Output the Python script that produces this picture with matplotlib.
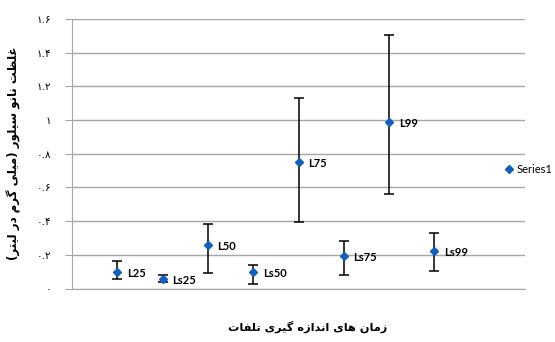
import matplotlib
matplotlib.use('Agg')
import matplotlib.pyplot as plt

# data
labels = ['L25', 'Ls25', 'L50', 'Ls50', 'L75', 'Ls75', 'L99', 'Ls99']
xpos = [1, 2, 3, 4, 5, 6, 7, 8]
conc = [0.10, 0.056, 0.26, 0.096, 0.75, 0.19, 0.99, 0.224]
err_low = [0.045, 0.02, 0.17, 0.07, 0.355, 0.11, 0.43, 0.12]
err_high = [0.065, 0.024, 0.12, 0.045, 0.38, 0.09, 0.515, 0.105]
yticks = [0, 0.2, 0.4, 0.6, 0.8, 1.0, 1.2, 1.4, 1.6]
ytick_labels = ['۰', '۰.۲', '۰.۴', '۰.۶', '۰.۸', '۱', '۱.۲', '۱.۴', '۱.۶']
ylabel = 'غلظت نانو سیلور (میلی گرم در لیتر)'
xlabel = 'زمان های اندازه گیری تلفات'

# --- minimal Persian shaping (no bidi/reshaper libs available) ---
# forms: isolated, final, initial, medial
FORMS = {
    'ا': ('\uFE8D', '\uFE8E'), 'د': ('\uFEA9', '\uFEAA'), 'ر': ('\uFEAD', '\uFEAE'),
    'ز': ('\uFEAF', '\uFEB0'), 'و': ('\uFEED', '\uFEEE'),
    'ت': ('\uFE95', '\uFE96', '\uFE97', '\uFE98'), 'س': ('\uFEB1', '\uFEB2', '\uFEB3', '\uFEB4'),
    'ظ': ('\uFEC5', '\uFEC6', '\uFEC7', '\uFEC8'), 'غ': ('\uFECD', '\uFECE', '\uFECF', '\uFED0'),
    'ف': ('\uFED1', '\uFED2', '\uFED3', '\uFED4'), 'ل': ('\uFEDD', '\uFEDE', '\uFEDF', '\uFEE0'),
    'م': ('\uFEE1', '\uFEE2', '\uFEE3', '\uFEE4'), 'ن': ('\uFEE5', '\uFEE6', '\uFEE7', '\uFEE8'),
    'ه': ('\uFEE9', '\uFEEA', '\uFEEB', '\uFEEC'), 'ی': ('\uFBFC', '\uFBFD', '\uFBFE', '\uFBFF'),
    'گ': ('\uFB92', '\uFB93', '\uFB94', '\uFB95'),
}


def shape(text):
    out = []
    for i, ch in enumerate(text):
        if ch not in FORMS:
            out.append(ch)
            continue
        prev = text[i - 1] if i > 0 else ''
        nxt = text[i + 1] if i + 1 < len(text) else ''
        join_prev = prev in FORMS and len(FORMS[prev]) == 4
        join_next = len(FORMS[ch]) == 4 and nxt in FORMS
        f = FORMS[ch]
        if join_prev and join_next:
            out.append(f[3])
        elif join_prev:
            out.append(f[1])
        elif join_next:
            out.append(f[2])
        else:
            out.append(f[0])
    vis = ''.join(reversed(out))
    return vis.translate(str.maketrans('()', ')('))


fig = plt.figure(figsize=(5.55, 3.42), dpi=100)
ax = fig.add_axes([0.1297, 0.1564, 0.8163, 0.7883])

# error bars first, then the diamonds (so the legend shows only the marker)
ax.errorbar(xpos, conc, yerr=[err_low, err_high], fmt='none', ecolor='black',
            elinewidth=1.1, capsize=3.5, capthick=1.1, zorder=3)
ax.plot(xpos, conc, 'D', color='#1060C0', markersize=4.5, label='Series1', zorder=4)

for i in range(len(xpos)):
    ax.annotate(labels[i], (xpos[i], conc[i]), textcoords='offset points',
                xytext=(7, -1), ha='left', va='center', fontsize=8,
                fontweight='bold', family='Lato')

ax.set_xlim(0, 10)
ax.set_ylim(0, 1.6)
ax.set_yticks(yticks)
ax.set_yticklabels(ytick_labels, family='DejaVu Sans', fontsize=7.5)
ax.set_xticks([])
ax.grid(axis='y', color='#A6A6A6', linewidth=1.0)
ax.set_axisbelow(True)
for s in ['top', 'right']:
    ax.spines[s].set_visible(False)
ax.spines['left'].set_color('#A6A6A6')
ax.spines['bottom'].set_color('#A6A6A6')
ax.tick_params(axis='y', length=5, color='#A6A6A6', pad=10)

ax.set_ylabel(shape(ylabel), family='DejaVu Sans', fontweight='bold',
              fontsize=8.5, labelpad=11)
fig.text(308 / 555, 1 - 327 / 342, shape(xlabel), family='DejaVu Sans',
         fontweight='bold', fontsize=8.2, ha='center', va='center')

ax.legend(loc='center left', bbox_to_anchor=(499 / 555, 1 - 169 / 342),
          bbox_transform=fig.transFigure, frameon=False,
          handletextpad=0.2, borderaxespad=0, handlelength=1,
          prop={'family': 'Lato', 'size': 8})

fig.savefig('out.png', dpi=100)
